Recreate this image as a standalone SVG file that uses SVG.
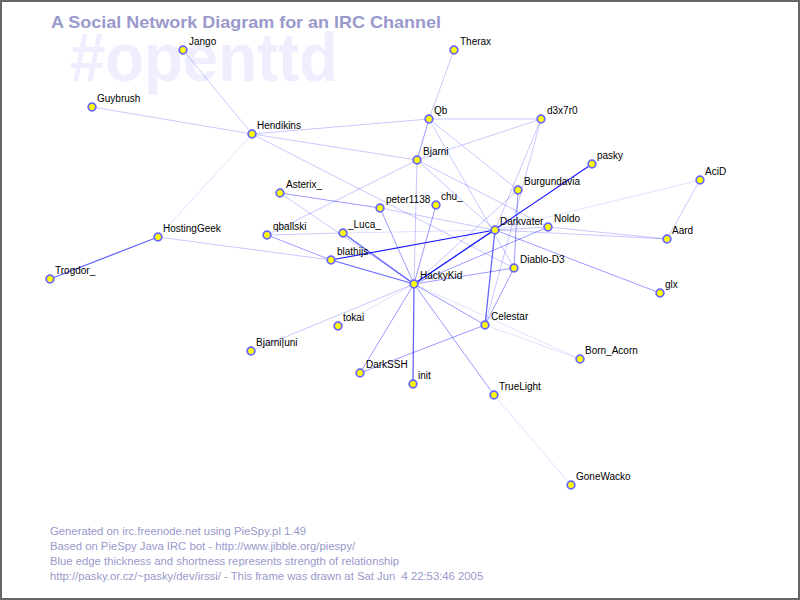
<svg xmlns="http://www.w3.org/2000/svg" width="800" height="600" viewBox="0 0 800 600">
<style>
.frame{fill:#ffffff;stroke:#666666;stroke-width:2}
.title{font-family:"Liberation Sans",Arial,sans-serif;font-weight:bold;font-size:17px;fill:#9999cc}
.wm{font-family:"Liberation Sans",Arial,sans-serif;font-weight:bold;font-size:68px;fill:#eeeeff}
.foot{font-family:"Liberation Sans",Arial,sans-serif;font-size:11.3px;fill:#9999cc}
.lbl{font-family:"Liberation Sans",Arial,sans-serif;font-size:10px;fill:#000000}
.n circle{fill:#ffff00;stroke:#6666ff;stroke-width:1.8}
#edges line{stroke:#0000ff;fill:none}
.e1{stroke-opacity:0.12;stroke-width:1}
.e2{stroke-opacity:0.22;stroke-width:1}
.e3{stroke-opacity:0.4;stroke-width:1}
.e4{stroke-opacity:0.6;stroke-width:1.3}
.e5{stroke-opacity:0.9;stroke-width:1.2}
</style>
<rect class="frame" x="1" y="1" width="798" height="598"/>
<text class="wm" x="70" y="81" textLength="268" lengthAdjust="spacingAndGlyphs">#openttd</text>
<text class="title" x="51" y="28" textLength="390" lengthAdjust="spacingAndGlyphs">A Social Network Diagram for an IRC Channel</text>
<g id="edges">
<line class="e4" x1="50" y1="279" x2="158" y2="237"/>
<line class="e2" x1="158" y1="237" x2="331" y2="260"/>
<line class="e1" x1="158" y1="237" x2="252" y2="134"/>
<line class="e2" x1="252" y1="134" x2="183" y2="50"/>
<line class="e2" x1="252" y1="134" x2="92" y2="107"/>
<line class="e2" x1="252" y1="134" x2="429" y2="119"/>
<line class="e2" x1="252" y1="134" x2="417" y2="160"/>
<line class="e2" x1="252" y1="134" x2="514" y2="268"/>
<line class="e2" x1="429" y1="119" x2="454" y2="50"/>
<line class="e2" x1="429" y1="119" x2="541" y2="119"/>
<line class="e3" x1="429" y1="119" x2="417" y2="160"/>
<line class="e2" x1="429" y1="119" x2="518" y2="190"/>
<line class="e2" x1="429" y1="119" x2="514" y2="268"/>
<line class="e2" x1="417" y1="160" x2="541" y2="119"/>
<line class="e2" x1="417" y1="160" x2="267" y2="235"/>
<line class="e2" x1="417" y1="160" x2="414" y2="284"/>
<line class="e2" x1="417" y1="160" x2="548" y2="227"/>
<line class="e2" x1="417" y1="160" x2="495" y2="230"/>
<line class="e2" x1="541" y1="119" x2="495" y2="230"/>
<line class="e2" x1="541" y1="119" x2="485" y2="325"/>
<line class="e3" x1="518" y1="190" x2="514" y2="268"/>
<line class="e2" x1="518" y1="190" x2="414" y2="284"/>
<line class="e5" x1="592" y1="164" x2="414" y2="284"/>
<line class="e2" x1="700" y1="180" x2="667" y2="239"/>
<line class="e1" x1="700" y1="180" x2="495" y2="230"/>
<line class="e2" x1="495" y1="230" x2="548" y2="227"/>
<line class="e2" x1="495" y1="230" x2="667" y2="239"/>
<line class="e2" x1="548" y1="227" x2="667" y2="239"/>
<line class="e3" x1="495" y1="230" x2="660" y2="293"/>
<line class="e5" x1="495" y1="230" x2="331" y2="260"/>
<line class="e4" x1="495" y1="230" x2="485" y2="325"/>
<line class="e3" x1="495" y1="230" x2="414" y2="284"/>
<line class="e1" x1="495" y1="230" x2="343" y2="233"/>
<line class="e3" x1="280" y1="193" x2="380" y2="208"/>
<line class="e2" x1="280" y1="193" x2="414" y2="284"/>
<line class="e3" x1="380" y1="208" x2="414" y2="284"/>
<line class="e2" x1="380" y1="208" x2="495" y2="230"/>
<line class="e3" x1="436" y1="205" x2="414" y2="284"/>
<line class="e2" x1="267" y1="235" x2="343" y2="233"/>
<line class="e3" x1="267" y1="235" x2="331" y2="260"/>
<line class="e4" x1="343" y1="233" x2="414" y2="284"/>
<line class="e4" x1="331" y1="260" x2="414" y2="284"/>
<line class="e3" x1="414" y1="284" x2="514" y2="268"/>
<line class="e3" x1="414" y1="284" x2="548" y2="227"/>
<line class="e3" x1="414" y1="284" x2="485" y2="325"/>
<line class="e1" x1="414" y1="284" x2="580" y2="359"/>
<line class="e3" x1="414" y1="284" x2="494" y2="395"/>
<line class="e4" x1="414" y1="284" x2="413" y2="384"/>
<line class="e3" x1="414" y1="284" x2="360" y2="373"/>
<line class="e2" x1="414" y1="284" x2="251" y2="351"/>
<line class="e1" x1="414" y1="284" x2="338" y2="326"/>
<line class="e3" x1="485" y1="325" x2="514" y2="268"/>
<line class="e3" x1="485" y1="325" x2="360" y2="373"/>
<line class="e1" x1="485" y1="325" x2="580" y2="359"/>
<line class="e1" x1="494" y1="395" x2="571" y2="485"/>
</g>
<g id="n-Jango" class="n"><circle cx="183" cy="50" r="3.8"/><text class="lbl" x="189" y="45">Jango</text></g>
<g id="n-Therax" class="n"><circle cx="454" cy="50" r="3.8"/><text class="lbl" x="460" y="45">Therax</text></g>
<g id="n-Guybrush" class="n"><circle cx="92" cy="107" r="3.8"/><text class="lbl" x="97" y="102">Guybrush</text></g>
<g id="n-Hendikins" class="n"><circle cx="252" cy="134" r="3.8"/><text class="lbl" x="257" y="129">Hendikins</text></g>
<g id="n-Qb" class="n"><circle cx="429" cy="119" r="3.8"/><text class="lbl" x="434" y="114">Qb</text></g>
<g id="n-d3x7r0" class="n"><circle cx="541" cy="119" r="3.8"/><text class="lbl" x="547" y="114">d3x7r0</text></g>
<g id="n-Bjarni" class="n"><circle cx="417" cy="160" r="3.8"/><text class="lbl" x="423" y="155">Bjarni</text></g>
<g id="n-pasky" class="n"><circle cx="592" cy="164" r="3.8"/><text class="lbl" x="597" y="159">pasky</text></g>
<g id="n-AciD" class="n"><circle cx="700" cy="180" r="3.8"/><text class="lbl" x="705" y="175">AciD</text></g>
<g id="n-Burgundavia" class="n"><circle cx="518" cy="190" r="3.8"/><text class="lbl" x="524" y="185">Burgundavia</text></g>
<g id="n-Asterix_" class="n"><circle cx="280" cy="193" r="3.8"/><text class="lbl" x="286" y="188">Asterix_</text></g>
<g id="n-peter1138" class="n"><circle cx="380" cy="208" r="3.8"/><text class="lbl" x="386" y="203">peter1138</text></g>
<g id="n-chu_" class="n"><circle cx="436" cy="205" r="3.8"/><text class="lbl" x="441" y="200">chu_</text></g>
<g id="n-Darkvater" class="n"><circle cx="495" cy="230" r="3.8"/><text class="lbl" x="500" y="225">Darkvater</text></g>
<g id="n-Noldo" class="n"><circle cx="548" cy="227" r="3.8"/><text class="lbl" x="554" y="222">Noldo</text></g>
<g id="n-Aard" class="n"><circle cx="667" cy="239" r="3.8"/><text class="lbl" x="672" y="234">Aard</text></g>
<g id="n-HostingGeek" class="n"><circle cx="158" cy="237" r="3.8"/><text class="lbl" x="163" y="232">HostingGeek</text></g>
<g id="n-qballski" class="n"><circle cx="267" cy="235" r="3.8"/><text class="lbl" x="273" y="230">qballski</text></g>
<g id="n-_Luca_" class="n"><circle cx="343" cy="233" r="3.8"/><text class="lbl" x="348" y="228">_Luca_</text></g>
<g id="n-blathijs" class="n"><circle cx="331" cy="260" r="3.8"/><text class="lbl" x="337" y="255">blathijs</text></g>
<g id="n-Diablo-D3" class="n"><circle cx="514" cy="268" r="3.8"/><text class="lbl" x="520" y="263">Diablo-D3</text></g>
<g id="n-HackyKid" class="n"><circle cx="414" cy="284" r="3.8"/><text class="lbl" x="420" y="279">HackyKid</text></g>
<g id="n-glx" class="n"><circle cx="660" cy="293" r="3.8"/><text class="lbl" x="665" y="288">glx</text></g>
<g id="n-Celestar" class="n"><circle cx="485" cy="325" r="3.8"/><text class="lbl" x="491" y="320">Celestar</text></g>
<g id="n-tokai" class="n"><circle cx="338" cy="326" r="3.8"/><text class="lbl" x="343" y="321">tokai</text></g>
<g id="n-Bjarniuni" class="n"><circle cx="251" cy="351" r="3.8"/><text class="lbl" x="256" y="346">Bjarni|uni</text></g>
<g id="n-Born_Acorn" class="n"><circle cx="580" cy="359" r="3.8"/><text class="lbl" x="585" y="354">Born_Acorn</text></g>
<g id="n-DarkSSH" class="n"><circle cx="360" cy="373" r="3.8"/><text class="lbl" x="366" y="368">DarkSSH</text></g>
<g id="n-init" class="n"><circle cx="413" cy="384" r="3.8"/><text class="lbl" x="418" y="379">init</text></g>
<g id="n-TrueLight" class="n"><circle cx="494" cy="395" r="3.8"/><text class="lbl" x="499" y="390">TrueLight</text></g>
<g id="n-GoneWacko" class="n"><circle cx="571" cy="485" r="3.8"/><text class="lbl" x="576" y="480">GoneWacko</text></g>
<g id="n-Trogdor_" class="n"><circle cx="50" cy="279" r="3.8"/><text class="lbl" x="55" y="274">Trogdor_</text></g>
<g id="footer">
<text class="foot" x="50" y="535">Generated on irc.freenode.net using PieSpy.pl 1.49</text>
<text class="foot" x="50" y="550">Based on PieSpy Java IRC bot - http://www.jibble.org/piespy/</text>
<text class="foot" x="50" y="565">Blue edge thickness and shortness represents strength of relationship</text>
<text class="foot" x="50" y="580" xml:space="preserve">http://pasky.or.cz/~pasky/dev/irssi/ - This frame was drawn at Sat Jun  4 22:53:46 2005</text>
</g>
</svg>
